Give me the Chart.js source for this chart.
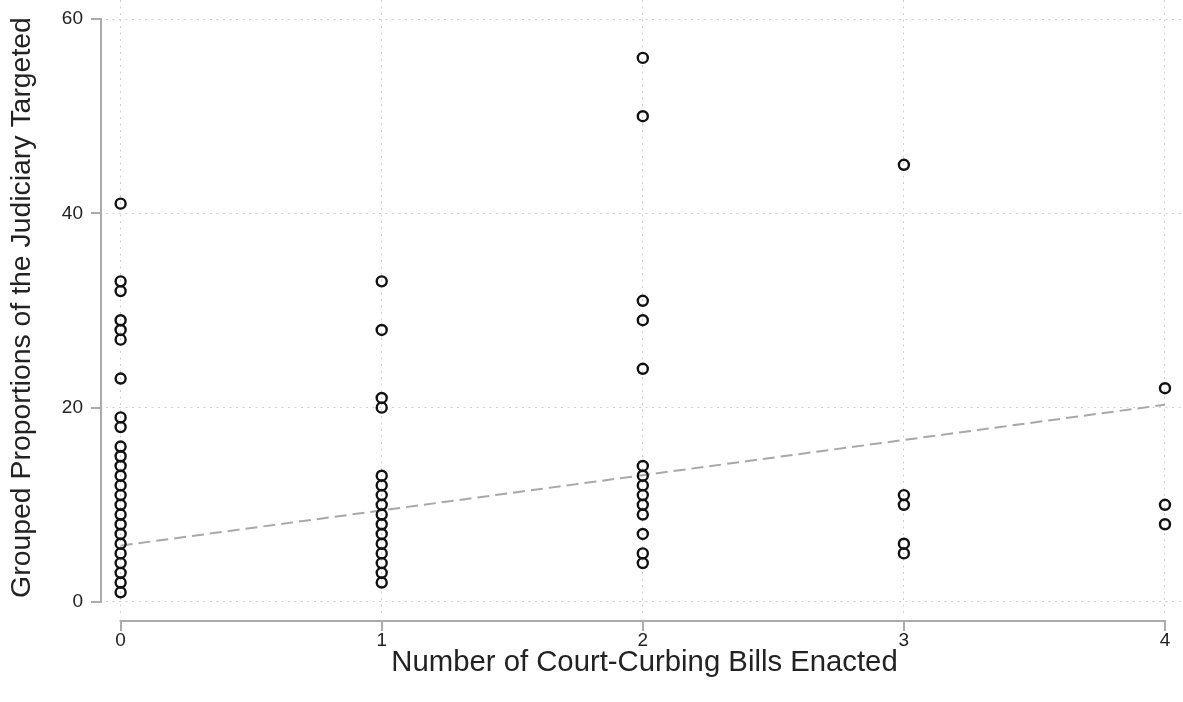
<!DOCTYPE html>
<html>
<head>
<meta charset="utf-8">
<title>Court-curbing bills and proportions of the judiciary targeted</title>
<script src="https://cdn.jsdelivr.net/npm/chart.js@4.4.1/dist/chart.umd.min.js"></script>
<style>
  html, body { margin: 0; padding: 0; background: #ffffff; }
  #wrap { width: 1183px; height: 702px; position: relative; }
</style>
</head>
<body>
<div id="wrap"><canvas id="chart" width="1183" height="702"></canvas></div>
<script>
// Number of court-curbing bills enacted (x categories)
const billCounts = [0, 1, 2, 3, 4];
// Grouped proportions of the judiciary targeted, one list per bill count
const targetedAt0 = [41, 33, 32, 29, 28, 27, 23, 19, 18, 16, 15, 14, 13, 12, 11, 10, 9, 8, 7, 6, 5, 4, 3, 2, 1];
const targetedAt1 = [33, 28, 21, 20, 13, 12, 11, 10, 9, 8, 7, 6, 5, 4, 3, 2];
const targetedAt2 = [56, 50, 31, 29, 24, 14, 13, 12, 11, 10, 9, 7, 5, 4];
const targetedAt3 = [45, 11, 10, 6, 5];
const targetedAt4 = [22, 10, 8];
// Fitted trend: values at the two ends of the x range
const fitX = [0, 4];
const fitY = [5.8, 20.3];
// Axis tick labels
const xTicks = [0, 1, 2, 3, 4];
const yTicks = [0, 20, 40, 60];

const groups = [targetedAt0, targetedAt1, targetedAt2, targetedAt3, targetedAt4];
const scatterPoints = [];
groups.forEach((vals, i) => vals.forEach(v => scatterPoints.push({ x: billCounts[i], y: v })));
const fitPoints = fitX.map((x, i) => ({ x: x, y: fitY[i] }));

Chart.defaults.font.family = '"Liberation Sans", Arial, sans-serif';
Chart.defaults.color = '#222222';

const AXIS_COLOR = '#ababab';

// Draws the offset axis lines with their outward tick marks, spanning only the labelled range
const offsetAxes = {
  id: 'offsetAxes',
  beforeDatasetsDraw(chart) {
    const { ctx, scales: { x, y } } = chart;
    ctx.save();
    ctx.strokeStyle = AXIS_COLOR;
    ctx.lineWidth = 2;
    ctx.lineCap = 'butt';
    // y axis
    const yAxisX = 101;
    const yTop = y.getPixelForValue(yTicks[yTicks.length - 1]);
    const yBot = y.getPixelForValue(yTicks[0]);
    ctx.beginPath();
    ctx.moveTo(yAxisX, yTop - 1);
    ctx.lineTo(yAxisX, yBot + 1);
    yTicks.forEach(v => {
      const py = Math.round(y.getPixelForValue(v));
      ctx.moveTo(yAxisX + 1, py);
      ctx.lineTo(yAxisX - 10, py);
    });
    ctx.stroke();
    // x axis
    const xAxisY = 621;
    const xL = x.getPixelForValue(xTicks[0]);
    const xR = x.getPixelForValue(xTicks[xTicks.length - 1]);
    ctx.beginPath();
    ctx.moveTo(xL - 1, xAxisY);
    ctx.lineTo(xR + 1, xAxisY);
    xTicks.forEach(v => {
      const px = Math.round(x.getPixelForValue(v));
      ctx.moveTo(px, xAxisY - 1);
      ctx.lineTo(px, xAxisY + 10);
    });
    ctx.stroke();
    ctx.restore();
  }
};

new Chart(document.getElementById('chart'), {
  type: 'scatter',
  data: {
    datasets: [
      {
        label: 'Observed',
        data: scatterPoints,
        pointStyle: 'circle',
        pointRadius: 5,
        pointHoverRadius: 5,
        borderWidth: 2.4,
        borderColor: '#111111',
        backgroundColor: 'rgba(0,0,0,0)'
      },
      {
        label: 'Fitted',
        type: 'line',
        data: fitPoints,
        showLine: true,
        borderColor: '#a8a8a8',
        borderWidth: 2,
        borderDash: [12, 6],
        pointRadius: 0,
        fill: false
      }
    ]
  },
  options: {
    responsive: false,
    animation: false,
    devicePixelRatio: 1,
    layout: { padding: 0, autoPadding: false },
    plugins: {
      legend: { display: false },
      tooltip: { enabled: false }
    },
    scales: {
      x: {
        type: 'linear',
        min: -0.056,
        max: 4.069,
        afterBuildTicks(scale) { scale.ticks = xTicks.map(v => ({ value: v })); },
        afterFit(scale) {
          scale.height = 87;
          scale.paddingLeft = 0;
          scale.paddingRight = 0;
        },
        border: { display: false, dash: [2, 4.5] },
        grid: { color: '#d0d0d0', lineWidth: 1, drawTicks: false },
        ticks: { font: { size: 19 }, padding: 14, maxRotation: 0, autoSkip: false, color: '#222222' },
        title: {
          display: true,
          text: 'Number of Court-Curbing Bills Enacted',
          font: { size: 29.3 },
          color: '#222222',
          padding: { top: 0, bottom: 22 }
        }
      },
      y: {
        type: 'linear',
        min: -1.34,
        max: 61.96,
        afterBuildTicks(scale) { scale.ticks = yTicks.map(v => ({ value: v })); },
        afterFit(scale) {
          scale.width = 106;
          scale.paddingTop = 0;
          scale.paddingBottom = 0;
        },
        border: { display: false, dash: [2, 4.5] },
        grid: { color: '#d0d0d0', lineWidth: 1, drawTicks: false },
        ticks: { font: { size: 19 }, padding: 23, color: '#222222' },
        title: {
          display: true,
          text: 'Grouped Proportions of the Judiciary Targeted',
          font: { size: 28.4 },
          color: '#222222',
          padding: { top: 5, bottom: 0 }
        }
      }
    }
  },
  plugins: [offsetAxes]
});
</script>
</body>
</html>
